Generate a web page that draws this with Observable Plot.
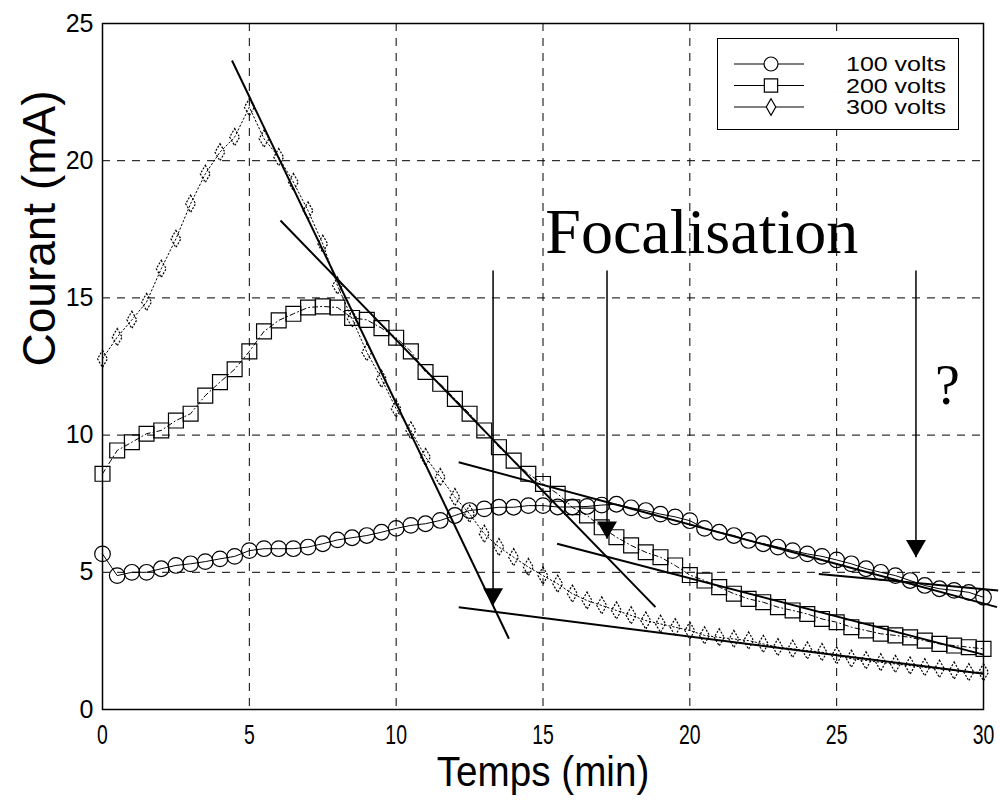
<!DOCTYPE html>
<html><head><meta charset="utf-8">
<script src="https://cdn.jsdelivr.net/npm/d3@7"></script>
<script src="https://cdn.jsdelivr.net/npm/@observablehq/plot@0.6"></script>
<style>
body{margin:0;background:#fff;}
#wrap{position:relative;width:1000px;height:800px;}
#legend{position:absolute;left:717px;top:38px;width:242px;height:92px;border:1px solid #000;background:#fff;box-sizing:border-box;}
</style></head><body><div id="wrap"><div id="chart"></div><div id="legend"></div></div>
<script>
// ---- data ----
const times = [0,0.5,1,1.5,2,2.5,3,3.5,4,4.5,5,5.5,6,6.5,7,7.5,8,8.5,9,9.5,10,10.5,11,11.5,12,12.5,13,13.5,14,14.5,15,15.5,16,16.5,17,17.5,18,18.5,19,19.5,20,20.5,21,21.5,22,22.5,23,23.5,24,24.5,25,25.5,26,26.5,27,27.5,28,28.5,29,29.5,30];
const v100 = [5.67,4.88,5.0,5.0,5.13,5.25,5.31,5.39,5.49,5.58,5.79,5.86,5.86,5.86,5.92,6.04,6.18,6.26,6.34,6.46,6.6,6.71,6.77,6.89,7.07,7.25,7.31,7.37,7.37,7.43,7.43,7.38,7.38,7.4,7.45,7.48,7.35,7.25,7.12,7.02,6.88,6.6,6.46,6.34,6.16,6.04,5.92,5.79,5.67,5.58,5.45,5.31,5.13,5.0,4.88,4.7,4.52,4.4,4.34,4.27,4.09];
const v200 = [8.59,9.44,9.74,10.05,10.17,10.53,10.78,11.44,11.93,12.4,13.05,13.78,14.18,14.42,14.65,14.69,14.65,14.27,14.2,13.9,13.55,13.05,12.3,11.87,11.32,10.78,10.17,9.56,9.07,8.59,8.22,7.86,7.37,7.07,6.64,6.28,5.98,5.73,5.55,5.25,4.9,4.7,4.46,4.22,4.03,3.91,3.73,3.61,3.48,3.3,3.18,3.0,2.88,2.76,2.7,2.63,2.51,2.39,2.33,2.27,2.21];
const v300 = [12.78,13.57,14.2,14.85,16.06,17.15,18.43,19.52,20.31,20.86,21.95,20.8,20.13,19.22,18.18,16.97,15.45,14.24,13.02,12.05,10.96,10.17,9.2,8.47,7.74,7.13,6.4,5.92,5.55,5.19,4.88,4.58,4.22,3.97,3.79,3.61,3.43,3.24,3.12,3.0,2.88,2.7,2.63,2.57,2.51,2.39,2.27,2.21,2.15,2.09,1.97,1.85,1.79,1.72,1.66,1.6,1.54,1.48,1.42,1.36,1.36];
const seriesNames = ["100 volts","200 volts","300 volts"];
const xTicks = [0,5,10,15,20,25,30];
const yTicks = [0,5,10,15,20,25];
const xGrid = [5,10,15,20,25];
const yGrid = [5,10,15,20];
// hand-drawn fit lines (data units)
const fitX1 = [4.41, 6.06, 12.13, 15.48, 12.13, 24.39];
const fitY1 = [23.65, 17.82, 9.01, 6.04, 3.73, 4.94];
const fitX2 = [13.84, 18.83, 30.46, 30.0, 30.0, 30.5];
const fitY2 = [2.58, 3.73, 3.73, 2.0, 1.30, 4.34];
// "Focalisation" arrows (data units)
const arrowX = [13.3, 17.18, 27.7];
const arrowTop = [16.0, 16.0, 16.0];
const arrowTip = [3.79, 6.22, 5.55];
const annotText = ["Focalisation", "?"];
const annotX = [15.08, 28.77];
const annotY = [16.62, 11.15];

// ---- tables built from the arrays ----
const rows = [];
[v100, v200, v300].forEach((vals, k) => vals.forEach((v, i) => rows.push({t: times[i], c: v, s: seriesNames[k]})));
const s100 = rows.filter(d => d.s === seriesNames[0]);
const s200 = rows.filter(d => d.s === seriesNames[1]);
const s300 = rows.filter(d => d.s === seriesNames[2]);
const fits = fitX1.map((x, i) => ({x1: x, y1: fitY1[i], x2: fitX2[i], y2: fitY2[i]}));
const arrows = arrowX.map((x, i) => ({x, top: arrowTop[i], tip: arrowTip[i]}));
const annots = annotText.map((t, i) => ({t, x: annotX[i], y: annotY[i]}));

const sans = "Arial, 'Liberation Sans', Helvetica, sans-serif";
const serif = "'Liberation Serif', 'Times New Roman', serif";

const chart = Plot.plot({
  width: 1000, height: 800,
  marginLeft: 102, marginRight: 17, marginTop: 23, marginBottom: 91,
  style: {background: "#fff", color: "#000"},
  x: {domain: [0, 30]},
  y: {domain: [0, 25]},
  marks: [
    Plot.gridX(xGrid, {stroke: "#000", strokeOpacity: 1, strokeWidth: 1, strokeDasharray: "8,7"}),
    Plot.gridY(yGrid, {stroke: "#000", strokeOpacity: 1, strokeWidth: 1, strokeDasharray: "8,7"}),
    Plot.axisX(xTicks, {tickSize: 0, tickPadding: 15, fontSize: 27, fontFamily: sans, label: null}),
    Plot.axisY(yTicks, {tickSize: 0, tickPadding: 9, fontSize: 25, fontFamily: sans, label: null}),
    Plot.text(["Temps (min)"], {frameAnchor: "bottom", lineAnchor: "middle", dy: 63, fontSize: 42, fontFamily: sans}),
    Plot.text(["Courant (mA)"], {frameAnchor: "left", dx: -62, rotate: -90, fontSize: 46, fontFamily: sans}),
    // series
    Plot.line(s100, {x: "t", y: "c", stroke: "#000", strokeWidth: 1}),
    Plot.line(s200, {x: "t", y: "c", stroke: "#000", strokeWidth: 1, strokeDasharray: "5,3,1,3"}),
    Plot.line(s300, {x: "t", y: "c", stroke: "#000", strokeWidth: 1, strokeDasharray: "1.5,2.5"}),
    Plot.dot(s100, {x: "t", y: "c", symbol: "circle", r: 7.8, stroke: "#000", strokeWidth: 1.2, fill: "none"}),
    Plot.dot(s200, {x: "t", y: "c", symbol: "square", r: 8.4, stroke: "#000", strokeWidth: 1.2, fill: "none"}),
    Plot.dot(s300, {x: "t", y: "c", symbol: "diamond", r: 5.2, stroke: "#000", strokeWidth: 1.2, fill: "none", strokeDasharray: "2,1.5"}),
    // hand fit lines
    Plot.link(fits, {x1: "x1", y1: "y1", x2: "x2", y2: "y2", stroke: "#000", strokeWidth: 2}),
    // arrows
    Plot.link(arrows, {x1: "x", x2: "x", y1: "top", y2: "tip", stroke: "#000", strokeWidth: 1.5}),
    Plot.dot(arrows, {x: "x", y: "tip", symbol: "triangle", r: 7.4, rotate: 180, dy: -11.5, fill: "#000", stroke: "none"}),
    // annotations
    Plot.text(annots.slice(0, 1), {x: "x", y: "y", text: "t", textAnchor: "start", lineAnchor: "bottom", fontSize: 64, fontFamily: serif}),
    Plot.text(annots.slice(1), {x: "x", y: "y", text: "t", textAnchor: "middle", lineAnchor: "bottom", fontSize: 56, fontFamily: serif}),
    Plot.frame({stroke: "#000", strokeWidth: 1.5})
  ]
});
document.getElementById("chart").appendChild(chart);

// condensed look of the x tick labels and x title (as in the scanned original)
d3.select(chart).selectAll('g[aria-label="x-axis tick label"] text').each(function() {
  const t = this.getAttribute("transform") || "";
  this.setAttribute("transform", t + " scale(0.72,1)");
});
d3.select(chart).selectAll("text").filter(function() { return this.textContent === "Temps (min)"; }).each(function() {
  const t = this.getAttribute("transform") || "";
  this.setAttribute("transform", t + " scale(0.92,1)");
});

// legend (overlay inside the axes, upper right)
const lg = d3.select("#legend").append("svg").attr("width", 240).attr("height", 90);
const symbols = [d3.symbolCircle, d3.symbolSquare, d3.symbolDiamond];
const sizes = [Math.PI * 7 * 7, Math.PI * 7.5 * 7.5, Math.PI * 5 * 5];
seriesNames.forEach((name, i) => {
  const y = 25 + i * 21.5;
  lg.append("line").attr("x1", 16).attr("x2", 86).attr("y1", y).attr("y2", y).attr("stroke", "#000").attr("stroke-width", 1.2);
  lg.append("path").attr("d", d3.symbol(symbols[i], sizes[i])()).attr("transform", `translate(53,${y})`)
    .attr("fill", "#fff").attr("stroke", "#000").attr("stroke-width", 1.2);
  lg.append("text").attr("x", 128).attr("y", y).attr("dy", "0.35em").attr("font-size", 21)
    .attr("font-family", sans).attr("textLength", 100).attr("lengthAdjust", "spacingAndGlyphs").text(name);
});
</script>
</body></html>
